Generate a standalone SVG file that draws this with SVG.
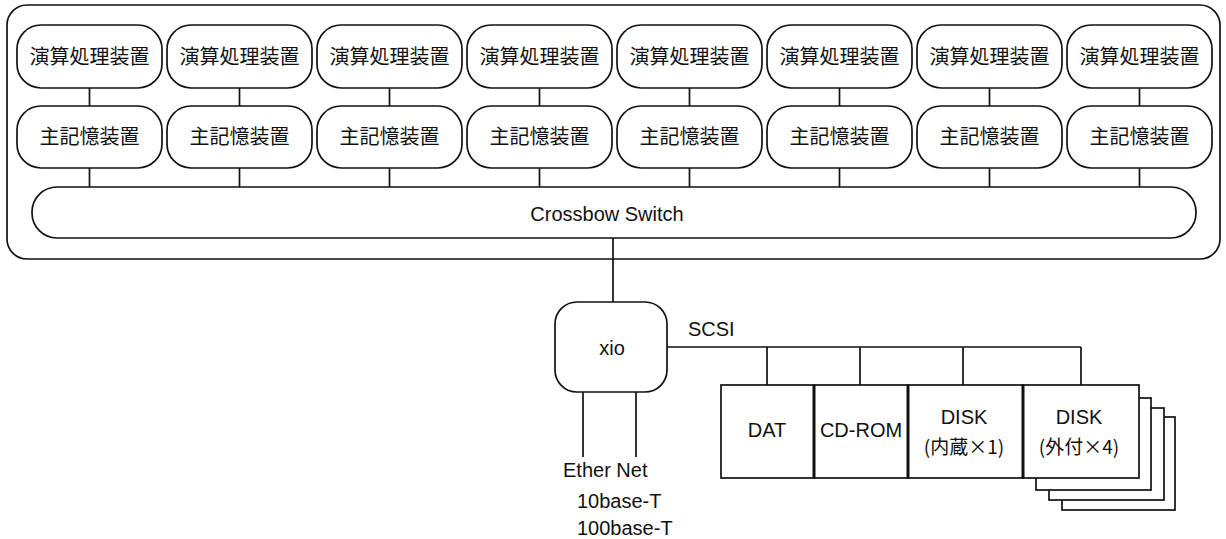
<svg xmlns="http://www.w3.org/2000/svg" width="1226" height="539" viewBox="0 0 1226 539">
<style>
.s{fill:#fff;stroke:#111;stroke-width:1.7}
.ln{stroke:#111;stroke-width:1.7;fill:none}
.j{font-family:"Noto Sans CJK JP","Liberation Sans",sans-serif;font-size:20px;fill:#111;text-anchor:middle}
.t{font-family:"Liberation Sans","Noto Sans CJK JP",sans-serif;font-size:20px;fill:#111}
.c{text-anchor:middle}
</style>
<rect width="1226" height="539" fill="#fff"/>
<g id="system"><rect class="s" x="7" y="5" width="1213" height="254" rx="20"/></g>
<g id="connectors">
<path class="ln" d="M89.5 88V106M89.5 168V187M239.5 88V106M239.5 168V187M389.5 88V106M389.5 168V187M539.5 88V106M539.5 168V187M689.5 88V106M689.5 168V187M839.5 88V106M839.5 168V187M989.5 88V106M989.5 168V187M1139.5 88V106M1139.5 168V187"/>
<path class="ln" d="M613 238V302M667 347H1081M767 347V385M860 347V385M963 347V385M1081 347V385M583 392V457M636 392V457"/>
</g>
<g id="cpu1"><rect class="s" x="17" y="25" width="145" height="63" rx="24"/><text class="j" x="89.5" y="64">演算処理装置</text></g>
<g id="cpu2"><rect class="s" x="167" y="25" width="145" height="63" rx="24"/><text class="j" x="239.5" y="64">演算処理装置</text></g>
<g id="cpu3"><rect class="s" x="317" y="25" width="145" height="63" rx="24"/><text class="j" x="389.5" y="64">演算処理装置</text></g>
<g id="cpu4"><rect class="s" x="467" y="25" width="145" height="63" rx="24"/><text class="j" x="539.5" y="64">演算処理装置</text></g>
<g id="cpu5"><rect class="s" x="617" y="25" width="145" height="63" rx="24"/><text class="j" x="689.5" y="64">演算処理装置</text></g>
<g id="cpu6"><rect class="s" x="767" y="25" width="145" height="63" rx="24"/><text class="j" x="839.5" y="64">演算処理装置</text></g>
<g id="cpu7"><rect class="s" x="917" y="25" width="145" height="63" rx="24"/><text class="j" x="989.5" y="64">演算処理装置</text></g>
<g id="cpu8"><rect class="s" x="1067" y="25" width="145" height="63" rx="24"/><text class="j" x="1139.5" y="64">演算処理装置</text></g>
<g id="mem1"><rect class="s" x="17" y="106" width="145" height="62" rx="24"/><text class="j" x="89.5" y="144">主記憶装置</text></g>
<g id="mem2"><rect class="s" x="167" y="106" width="145" height="62" rx="24"/><text class="j" x="239.5" y="144">主記憶装置</text></g>
<g id="mem3"><rect class="s" x="317" y="106" width="145" height="62" rx="24"/><text class="j" x="389.5" y="144">主記憶装置</text></g>
<g id="mem4"><rect class="s" x="467" y="106" width="145" height="62" rx="24"/><text class="j" x="539.5" y="144">主記憶装置</text></g>
<g id="mem5"><rect class="s" x="617" y="106" width="145" height="62" rx="24"/><text class="j" x="689.5" y="144">主記憶装置</text></g>
<g id="mem6"><rect class="s" x="767" y="106" width="145" height="62" rx="24"/><text class="j" x="839.5" y="144">主記憶装置</text></g>
<g id="mem7"><rect class="s" x="917" y="106" width="145" height="62" rx="24"/><text class="j" x="989.5" y="144">主記憶装置</text></g>
<g id="mem8"><rect class="s" x="1067" y="106" width="145" height="62" rx="24"/><text class="j" x="1139.5" y="144">主記憶装置</text></g>
<g id="crossbow"><rect class="s" x="32" y="187" width="1164" height="51" rx="25"/><text class="t c" x="607" y="221">Crossbow Switch</text></g>
<g id="xio"><rect class="s" x="555" y="302" width="112" height="90" rx="22"/><text class="t c" x="612" y="355">xio</text></g>
<g id="scsi-label"><text class="t" x="688" y="336">SCSI</text></g>
<g id="ether-label"><text class="t" x="563" y="477">Ether Net</text><text class="t" x="577" y="508">10base-T</text><text class="t" x="577" y="535">100base-T</text></g>
<g id="dat"><rect class="s" x="721" y="385" width="93" height="93"/><text class="t c" x="767" y="437">DAT</text></g>
<g id="cdrom"><rect class="s" x="814" y="385" width="94" height="93"/><text class="t c" x="861" y="437">CD-ROM</text></g>
<g id="disk-int"><rect class="s" x="908" y="385" width="115" height="93"/><text class="t c" x="964" y="424">DISK</text><text class="j" x="964" y="454" style="font-size:19px">(内蔵×1)</text></g>
<g id="disk-ext">
<rect class="s" x="1062" y="417" width="113" height="93"/>
<rect class="s" x="1049" y="408" width="115" height="92"/>
<rect class="s" x="1036" y="398" width="115" height="92"/>
<rect class="s" x="1023" y="385" width="116" height="93"/>
<text class="t c" x="1079" y="424">DISK</text><text class="j" x="1079" y="454" style="font-size:19px">(外付×4)</text>
</g>
<path class="ln" d="M814 385V478M908 385V478M1023 385V478" style="stroke-width:3"/>
</svg>
